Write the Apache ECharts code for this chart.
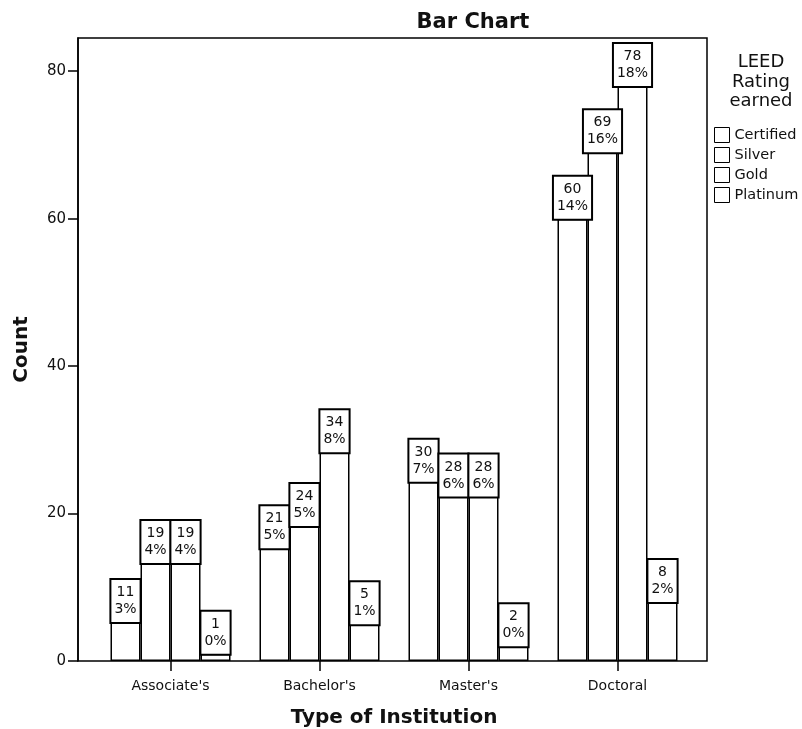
<!DOCTYPE html>
<html>
<head>
<meta charset="utf-8">
<title>Bar Chart</title>
<script src="https://cdn.jsdelivr.net/npm/echarts@6/dist/echarts.min.js"></script>
<style>
  html, body { margin: 0; padding: 0; background: #fff; }
  #chart { width: 802px; height: 729px; }
</style>
</head>
<body>
<div id="chart"></div>
<script>
// type of institution on the x axis
var institutions = ["Associate's", "Bachelor's", "Master's", "Doctoral"];

// LEED rating groups
var ratings = ["Certified", "Silver", "Gold", "Platinum"];

// counts per institution, one array per rating
var certified = [11, 21, 30, 60];
var silver = [19, 24, 28, 69];
var gold = [19, 34, 28, 78];
var platinum = [1, 5, 2, 8];

var yTicks = [0, 20, 40, 60, 80];

var counts = [certified, silver, gold, platinum];
var total = 0;
for (var i = 0; i < counts.length; i++)
    for (var j = 0; j < counts[i].length; j++)
        total += counts[i][j];

// SPSS puts the box inside the top of the bar, except short and very tall ones
function placement(v) {
    return (v < 10 || v > 50) ? "top" : "insideTop";
}

function makeSeries(name, values) {
    return {
        name: name,
        type: "bar",
        xAxisIndex: 1,
        yAxisIndex: 1,
        barWidth: 30,
        barGap: "0%",
        itemStyle: { color: "#fff", borderColor: "#000", borderWidth: 1.5 },
        emphasis: { disabled: true },
        data: values.map(function (v) {
            return {
                value: v,
                label: { position: placement(v) }
            };
        }),
        label: {
            show: true,
            distance: 0,
            formatter: function (p) {
                return p.value + "\n" + Math.round(p.value / total * 100) + "%";
            },
            color: "#111",
            fontFamily: "DejaVu Sans",
            fontSize: 14,
            lineHeight: 17,
            align: "center",
            padding: [4, 3, 4, 3],
            backgroundColor: "#fff",
            borderColor: "#000",
            borderWidth: 2
        }
    };
}

var myChart = echarts.init(document.getElementById("chart"));

var options = {
    animation: false,
    backgroundColor: "#fff",
    title: [
        {
            text: "Bar Chart",
            left: 468,
            top: 7,
            textAlign: "center",
            textStyle: { fontFamily: "DejaVu Sans", fontWeight: "bold", fontSize: 21, color: "#111" }
        },
        {
            text: "LEED\nRating\nearned",
            left: 756,
            top: 48,
            textAlign: "center",
            textStyle: { fontFamily: "DejaVu Sans", fontWeight: "normal", fontSize: 18, lineHeight: 19.5, color: "#111" }
        }
    ],
    legend: {
        orient: "vertical",
        left: 709,
        top: 122,
        itemWidth: 15,
        itemHeight: 15,
        itemGap: 4,
        icon: "rect",
        selectedMode: false,
        itemStyle: { color: "#fff", borderColor: "#000", borderWidth: 1 },
        textStyle: { fontFamily: "DejaVu Sans", fontSize: 14.5, color: "#111" },
        data: ratings
    },
    grid: [
        // frame of the plot, carries the count axis
        { left: 78, right: 95, top: 38, bottom: 68, outerBoundsMode: "none", show: true, borderColor: "#000", borderWidth: 1.5, backgroundColor: "transparent" },
        // inner band where the bars sit
        { left: 96, right: 110, top: 38, bottom: 68, outerBoundsMode: "none" }
    ],
    xAxis: [
        { gridIndex: 0, type: "value", show: false, min: 0, max: 1 },
        {
            gridIndex: 1,
            type: "category",
            data: institutions,
            name: "Type of Institution",
            nameLocation: "middle",
            nameGap: 47,
            nameTextStyle: { fontFamily: "DejaVu Sans", fontWeight: "bold", fontSize: 20, color: "#111" },
            axisLine: { show: false },
            axisTick: { show: true, alignWithLabel: true, length: 10, lineStyle: { color: "#000", width: 1.5 } },
            axisLabel: { fontFamily: "DejaVu Sans", fontSize: 14, color: "#111", margin: 18 },
            splitLine: { show: false }
        }
    ],
    yAxis: [
        {
            gridIndex: 0,
            type: "value",
            min: 0,
            max: 84.5,
            interval: 20,
            name: "Count",
            nameLocation: "middle",
            nameGap: 46,
            nameTextStyle: { fontFamily: "DejaVu Sans", fontWeight: "bold", fontSize: 20, color: "#111" },
            axisLine: { show: true, lineStyle: { color: "#000", width: 1.5 } },
            axisTick: { show: true, length: 10, customValues: yTicks, lineStyle: { color: "#000", width: 1.5 } },
            axisLabel: {
                fontFamily: "DejaVu Sans", fontSize: 15, color: "#111", margin: 12,
                customValues: yTicks
            },
            splitLine: { show: false }
        },
        { gridIndex: 1, type: "value", min: 0, max: 84.5, show: false }
    ],
    series: ratings.map(function (r, k) { return makeSeries(r, counts[k]); })
};

myChart.setOption(options);
</script>
</body>
</html>
